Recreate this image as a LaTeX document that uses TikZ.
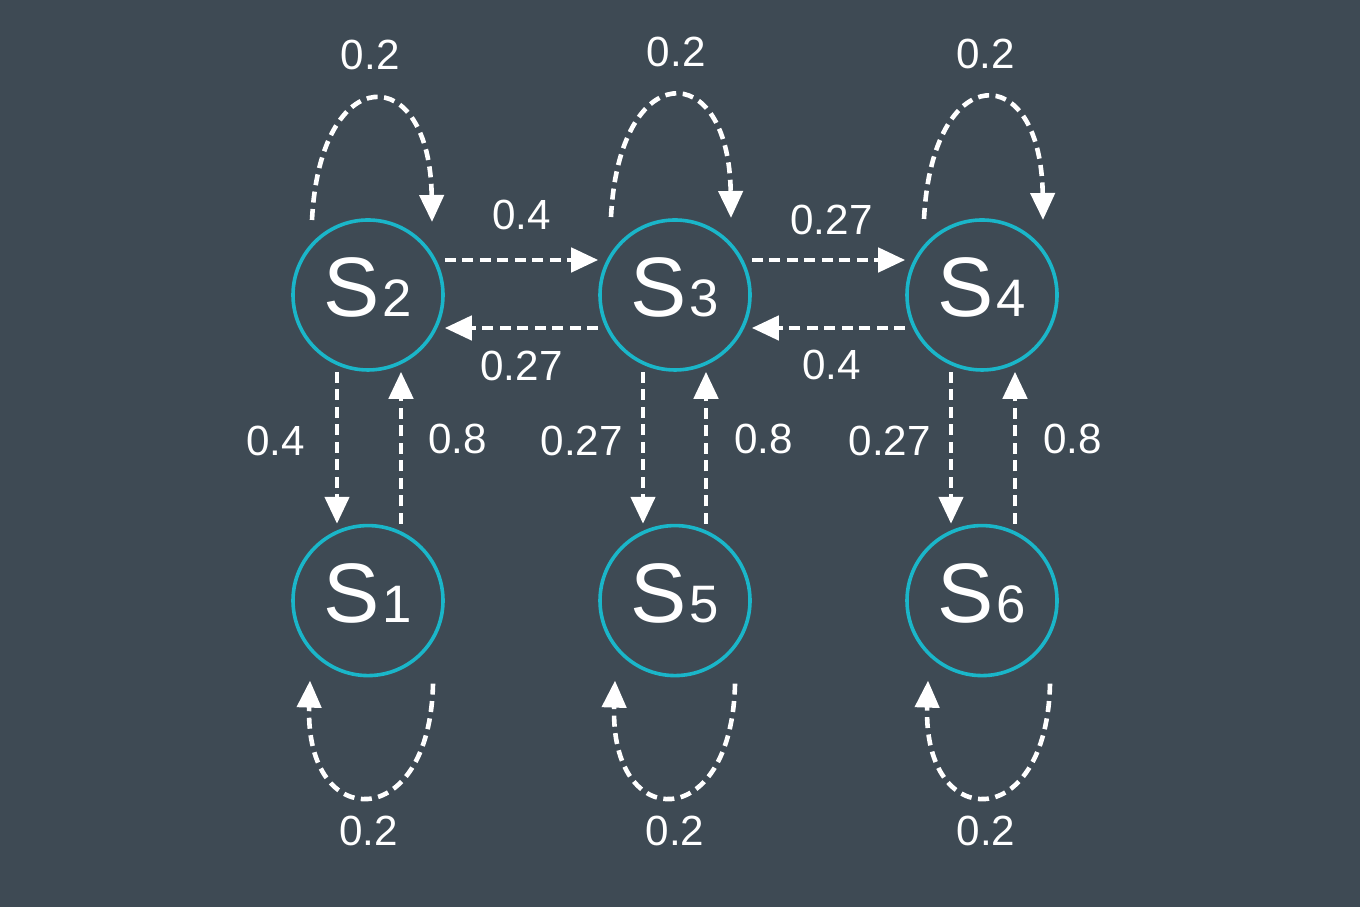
\documentclass[tikz,border=0pt]{standalone}
\usepackage{fontspec}
\setmainfont{Liberation Sans}
\usepackage{tikz}
\usetikzlibrary{positioning}
\usetikzlibrary{arrows.meta}

\definecolor{slate}{HTML}{3E4A54}
\definecolor{ring}{HTML}{1AB6C9}
\newcommand{\st}[1]{S\kern0.03cm{\fontsize{15}{15}\selectfont #1}}

\begin{document}
\begin{tikzpicture}[
        state/.style={draw=ring, line width=0.036cm, circle, minimum size=1.5cm, inner sep=0, text=white, text depth=0.15cm, font=\fontsize{24}{24}\selectfont},
        flow/.style={draw=white, line width=0.046cm, dash pattern=on 0.11cm off 0.065cm, -{Triangle[width=0.24cm,length=0.27cm]}},
        lbl/.style={text=white, inner sep=0, font=\fontsize{12}{12}\selectfont}
    ]
        \fill[slate] (0, 0) rectangle (13.6, 9.07);
        \node(s2) [state] at (3.68, 6.12) {\st{2}};
        \node(s3) [state] at (6.75, 6.12) {\st{3}};
        \node(s4) [state] at (9.82, 6.12) {\st{4}};
        \node(s1) [state, below=1.52cm of s2] {\st{1}};
        \node(s5) [state, below=1.52cm of s3] {\st{5}};
        \node(s6) [state, below=1.52cm of s4] {\st{6}};
        % across the top row
        \draw[flow] ([yshift=3.5mm]s2.east) -- ([yshift=3.5mm]s3.west) node [lbl, midway, above=2.8mm] {0.4};
        \draw[flow] ([yshift=-3.3mm]s3.west) -- ([yshift=-3.3mm]s2.east) node [lbl, midway, below=2.1mm] {0.27};
        \draw[flow] ([yshift=3.5mm]s3.east) -- ([yshift=3.5mm]s4.west) node [lbl, midway, above=2.3mm, xshift=0.3mm] {0.27};
        \draw[flow] ([yshift=-3.3mm]s4.west) -- ([yshift=-3.3mm]s3.east) node [lbl, midway, below=2.0mm, xshift=0.3mm] {0.4};
        % up and down
        \draw[flow] ([xshift=-3.1mm]s2.south) -- ([xshift=-3.1mm]s1.north) node [lbl, midway, left=3.0mm, yshift=0.7mm] {0.4};
        \draw[flow] ([xshift=3.3mm]s1.north) -- ([xshift=3.3mm]s2.south) node [lbl, midway, right=2.5mm, yshift=0.9mm] {0.8};
        \draw[flow] ([xshift=-3.2mm]s3.south) -- ([xshift=-3.2mm]s5.north) node [lbl, midway, left=1.8mm, yshift=0.7mm] {0.27};
        \draw[flow] ([xshift=3.1mm]s5.north) -- ([xshift=3.1mm]s3.south) node [lbl, midway, right=2.6mm, yshift=0.9mm] {0.8};
        \draw[flow] ([xshift=-3.1mm]s4.south) -- ([xshift=-3.1mm]s6.north) node [lbl, midway, left=1.8mm, yshift=0.7mm] {0.27};
        \draw[flow] ([xshift=3.3mm]s6.north) -- ([xshift=3.3mm]s4.south) node [lbl, midway, right=2.6mm, yshift=0.9mm] {0.8};
        % self loops
        \draw[flow] ([shift={(-0.56,0.75)}]s2.center) .. controls +(0.08,1.6) and +(-0.02,1.62) .. ([shift={(0.64,0.73)}]s2.center) node [lbl, pos=0.5, above=2.8mm, xshift=-0.4mm] {0.2};
        \draw[flow] ([shift={(-0.64,0.78)}]s3.center) .. controls +(0.08,1.6) and +(-0.02,1.62) .. ([shift={(0.56,0.77)}]s3.center) node [lbl, pos=0.5, above=2.8mm, xshift=0.3mm] {0.2};
        \draw[flow] ([shift={(-0.58,0.76)}]s4.center) .. controls +(0.08,1.6) and +(-0.02,1.62) .. ([shift={(0.61,0.75)}]s4.center) node [lbl, pos=0.5, above=2.8mm] {0.2};
        \draw[flow] ([shift={(0.65,-0.83)}]s1.center) .. controls +(-0.03,-1.5) and +(-0.05,-1.53) .. ([shift={(-0.58,-0.80)}]s1.center) node [lbl, pos=0.5, below=1.8mm] {0.2};
        \draw[flow] ([shift={(0.60,-0.83)}]s5.center) .. controls +(-0.03,-1.5) and +(-0.05,-1.53) .. ([shift={(-0.60,-0.80)}]s5.center) node [lbl, pos=0.5, below=1.8mm, xshift=0.3mm] {0.2};
        \draw[flow] ([shift={(0.68,-0.83)}]s6.center) .. controls +(-0.03,-1.5) and +(-0.05,-1.53) .. ([shift={(-0.54,-0.80)}]s6.center) node [lbl, pos=0.5, below=1.8mm] {0.2};
    \end{tikzpicture}
\end{document}
